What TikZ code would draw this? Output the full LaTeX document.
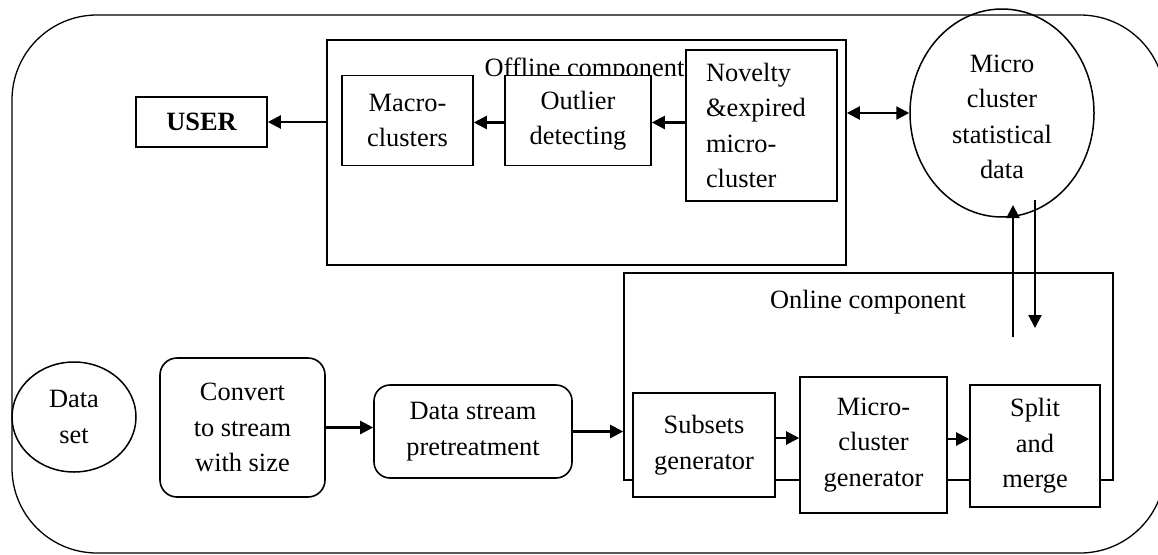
\documentclass[tikz,border=0pt]{standalone}
\usepackage{fontspec}
\setmainfont{Liberation Serif}
\usetikzlibrary{arrows.meta,shapes.geometric,calc}
\tikzset{
  outer/.style={draw,line width=1.3pt},
  frame/.style={draw,line width=1.6pt,inner sep=0pt},
  box/.style={draw,line width=1.6pt,fill=white,inner sep=0pt,align=center,
    font=\fontsize{26.4}{35.4}\selectfont},
  rbox/.style={box,rounded corners=17pt},
  oval/.style={draw,line width=1.5pt,ellipse,inner sep=0pt,align=center,
    font=\fontsize{26.4}{35.4}\selectfont},
  txt/.style={inner sep=0pt,align=center,font=\fontsize{26.4}{35.4}\selectfont},
  lbl/.style={inner sep=0pt,anchor=base,font=\fontsize{26.4}{35.4}\selectfont},
  arr/.style={line width=2.2pt,-{Triangle[length=13pt,width=13pt]}},
  darr/.style={line width=2.2pt,{Triangle[length=13pt,width=13pt]}-{Triangle[length=13pt,width=13pt]}}
}
\begin{document}
\begin{tikzpicture}[x=1pt,y=-1pt]
\useasboundingbox (0,0) rectangle (1158,554);
\clip (0,0) rectangle (1158,554);
% outer rounded frame
\draw[outer,rounded corners=85pt] (12,15) rectangle (1165,553);

% offline component
\node[frame,minimum width=519pt,minimum height=225pt] (offline) at (586.5,152.5) {};
\node[lbl] (offlbl) at (584.5,76) {Offline component};
\node[box,minimum width=131pt,minimum height=90pt] (macro) at (407.5,120.5) {Macro-\\clusters};
\node[box,minimum width=146pt,minimum height=90pt] (outlier) at (578,120.5) {Outlier\\detecting};
\node[box,minimum height=151pt,text width=111pt,inner xsep=20pt,align=left] (novelty) at (761.5,125.5) {Novelty\\\&expired\\micro-\\cluster};

\node[box,minimum width=131pt,minimum height=50pt,font=\fontsize{26.4}{35.4}\selectfont\bfseries] (user) at (201.5,122) {USER};

\node[oval,minimum width=184pt,minimum height=208pt] (stat) at (1002,113) {};
\node[txt] (stattxt) at (1002,117) {Micro\\cluster\\statistical\\data};

% online component
\node[frame,minimum width=489pt,minimum height=207pt] (online) at (868.5,376.5) {};
\node[lbl] (onlbl) at (868,308) {Online component};
\node[box,minimum width=142pt,minimum height=104pt] (subsets) at (704,445) {Subsets\\generator};
\node[box,minimum width=147pt,minimum height=136pt] (mcg) at (873.5,445) {Micro-\\cluster\\generator};
\node[box,minimum width=130pt,minimum height=122pt] (split) at (1035,446) {Split\\and\\merge};

% input chain
\node[oval,minimum width=124pt,minimum height=110pt] (dataset) at (74,417) {Data\\set};
\node[rbox,minimum width=165pt,minimum height=139pt] (convert) at (242.5,427.5) {Convert\\to stream\\with size};
\node[rbox,rounded corners=16pt,minimum width=198pt,minimum height=93pt] (dsp) at (473,431.5) {Data stream\\pretreatment};

% connectors
\draw[arr] (offline.west |- user.east) -- (user.east);
\draw[arr] ([yshift=-2pt]outlier.west) -- ([yshift=-2pt]macro.east);
\draw[arr] (novelty.west |- outlier.east) ++(0,2) -- ([yshift=-2pt]outlier.east);
\draw[darr] (offline.east |- stat.west) -- (stat.west);

\draw[arr] (convert.east) -- (dsp.west |- convert.east);
\draw[arr] (dsp.east) -- (online.west |- dsp.east);
\draw[arr] ([yshift=7pt]subsets.east) -- ([yshift=7pt]subsets.east -| mcg.west);
\draw[arr] ([yshift=6pt]mcg.east) -- ([yshift=6pt]mcg.east -| split.west);

\coordinate (upfrom) at (1013,337);
\coordinate (upto) at (1013,205);
\coordinate (downfrom) at (1035,200);
\coordinate (downto) at (1035,328);
\draw[arr] (upfrom) -- (upto);
\draw[arr] (downfrom) -- (downto);
\end{tikzpicture}
\end{document}
